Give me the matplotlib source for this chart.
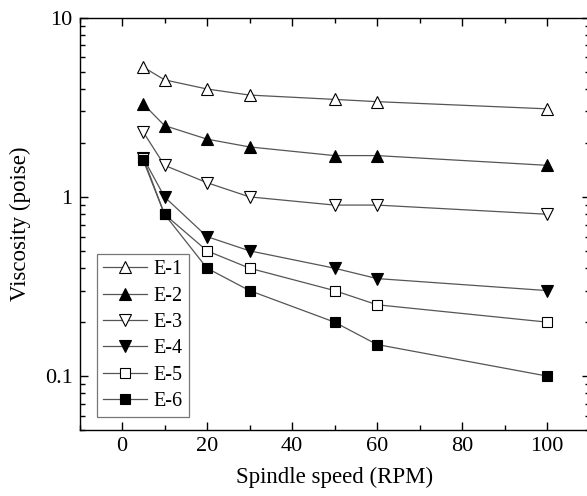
import matplotlib
matplotlib.use("Agg")
import matplotlib.pyplot as plt
from matplotlib.ticker import LogLocator, FixedLocator, NullFormatter, MultipleLocator

plt.rcParams['font.family'] = ['Liberation Serif', 'DejaVu Serif']

speed = [5, 10, 20, 30, 50, 60, 100]
e1 = [5.3, 4.5, 4.0, 3.7, 3.5, 3.4, 3.1]
e2 = [3.3, 2.5, 2.1, 1.9, 1.7, 1.7, 1.5]
e3 = [2.3, 1.5, 1.2, 1.0, 0.9, 0.9, 0.8]
e4 = [1.65, 1.0, 0.6, 0.5, 0.4, 0.35, 0.3]
e5 = [1.65, 0.8, 0.5, 0.4, 0.3, 0.25, 0.2]
e6 = [1.6, 0.8, 0.4, 0.3, 0.2, 0.15, 0.1]
labels = ['E-1', 'E-2', 'E-3', 'E-4', 'E-5', 'E-6']
series = [e1, e2, e3, e4, e5, e6]
markers = ['^', '^', 'v', 'v', 's', 's']
fills = ['white', 'black', 'white', 'black', 'white', 'black']

fig = plt.figure(figsize=(5.87, 4.96), dpi=100)
ax = fig.add_axes([79.5/587, 1-430/496, 510/587, (430-17.7)/496])

for ys, lab, m, fc in zip(series, labels, markers, fills):
    ax.plot(speed, ys, color='#555555', lw=0.9, marker=m, ms=8.5 if m != 's' else 6.5,
            mfc=fc, mec='black', mew=0.8, label=lab)

ax.set_yscale('log')
ax.set_xlim(-10, 110)
ax.set_ylim(0.05, 10)
ax.xaxis.set_major_locator(FixedLocator([0, 20, 40, 60, 80, 100]))
ax.xaxis.set_minor_locator(MultipleLocator(10))
ax.yaxis.set_major_locator(FixedLocator([0.1, 1, 10]))
ax.set_yticklabels(['0.1', '1', '10'])
ax.yaxis.set_minor_locator(LogLocator(base=10, subs=range(2, 10)))
ax.yaxis.set_minor_formatter(NullFormatter())
ax.tick_params(which='both', direction='in', top=True, right=True, labelsize=16, width=1.0, pad=5)
ax.tick_params(which='major', length=6)
ax.tick_params(which='minor', length=3.5)
for s in ax.spines.values():
    s.set_linewidth(1.0)

ax.set_xlabel('Spindle speed (RPM)', fontsize=16.5, labelpad=8)
ax.set_ylabel('Viscosity (poise)', fontsize=16.5, labelpad=10)

leg = ax.legend(loc='lower left', bbox_to_anchor=(17.5/510, 13/412.3), fontsize=14.5,
                frameon=True, fancybox=False, edgecolor='#555555', handlelength=2.2,
                handletextpad=0.3, labelspacing=0.36, borderpad=0.3, borderaxespad=0)
leg.get_frame().set_linewidth(0.9)

fig.savefig('out.png', dpi=100)
